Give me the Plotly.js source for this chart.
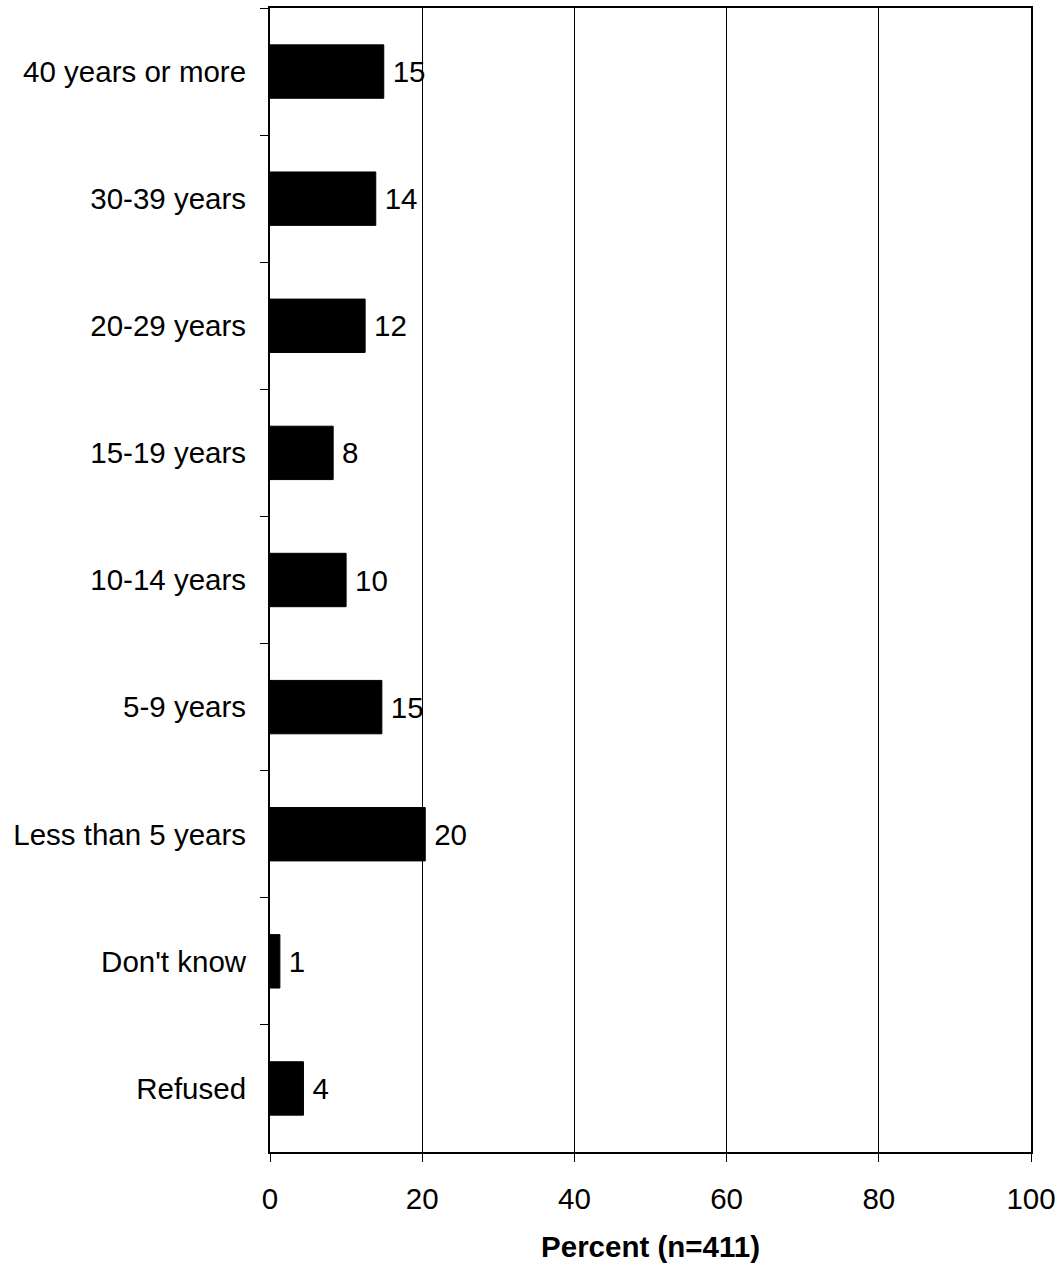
<!DOCTYPE html>
<html>
<head>
<meta charset="utf-8">
<script src="https://cdn.plot.ly/plotly-3.0.1.min.js"></script>
<style>html,body{margin:0;padding:0;background:#fff;}#chart{width:1061px;height:1263px;}</style>
</head>
<body>
<div id="chart"></div>
<script>
const categories = ["40 years or more","30-39 years","20-29 years","15-19 years","10-14 years","5-9 years","Less than 5 years","Don't know","Refused"];
const values = [14.95, 13.9, 12.5, 8.3, 10.0, 14.7, 20.4, 1.3, 4.4];
const labels = ["15","14","12","8","10","15","20","1","4"];
const xTicks = [0,20,40,60,80,100];

const font = "Liberation Sans, Arial, sans-serif";
const fs = 29.5;
const trace = {
  type: "bar",
  orientation: "h",
  y: categories,
  x: values,
  text: labels.map(l => "\u2009" + l),
  textposition: "outside",
  textfont: {family: font, size: fs, color: "#000"},
  cliponaxis: false,
  marker: {color: "#000", line: {color: "#000", width: 1}},
  hoverinfo: "none"
};
const layout = {
  width: 1061, height: 1263,
  margin: {l: 270, r: 30, t: 8, b: 111},
  paper_bgcolor: "#fff", plot_bgcolor: "#fff",
  showlegend: false,
  bargap: 0.58,
  font: {family: font, size: fs, color: "#000"},
  xaxis: {
    range: [0, 100], tickvals: xTicks, ticktext: xTicks.map(String),
    ticks: "outside", ticklen: 8, tickcolor: "#000", tickwidth: 1,
    showgrid: true, gridcolor: "#000", gridwidth: 1,
    showline: true, linecolor: "#000", linewidth: 2, mirror: true,
    zeroline: false,
    ticklabelstandoff: 12,
    tickfont: {family: font, size: fs},
    title: {text: "<b>Percent (n=411)</b>", font: {family: font, size: fs}, standoff: 25}
  },
  yaxis: {
    type: "category",
    categoryorder: "array", categoryarray: categories,
    autorange: "reversed",
    tickson: "boundaries",
    ticks: "outside", ticklen: 8, tickcolor: "#000", tickwidth: 1,
    showgrid: false,
    showline: true, linecolor: "#000", linewidth: 2, mirror: true,
    zeroline: false,
    ticklabelstandoff: 16,
    tickfont: {family: font, size: fs}
  }
};
Plotly.newPlot("chart", [trace], layout, {staticPlot: true, displayModeBar: false});
</script>
</body>
</html>
